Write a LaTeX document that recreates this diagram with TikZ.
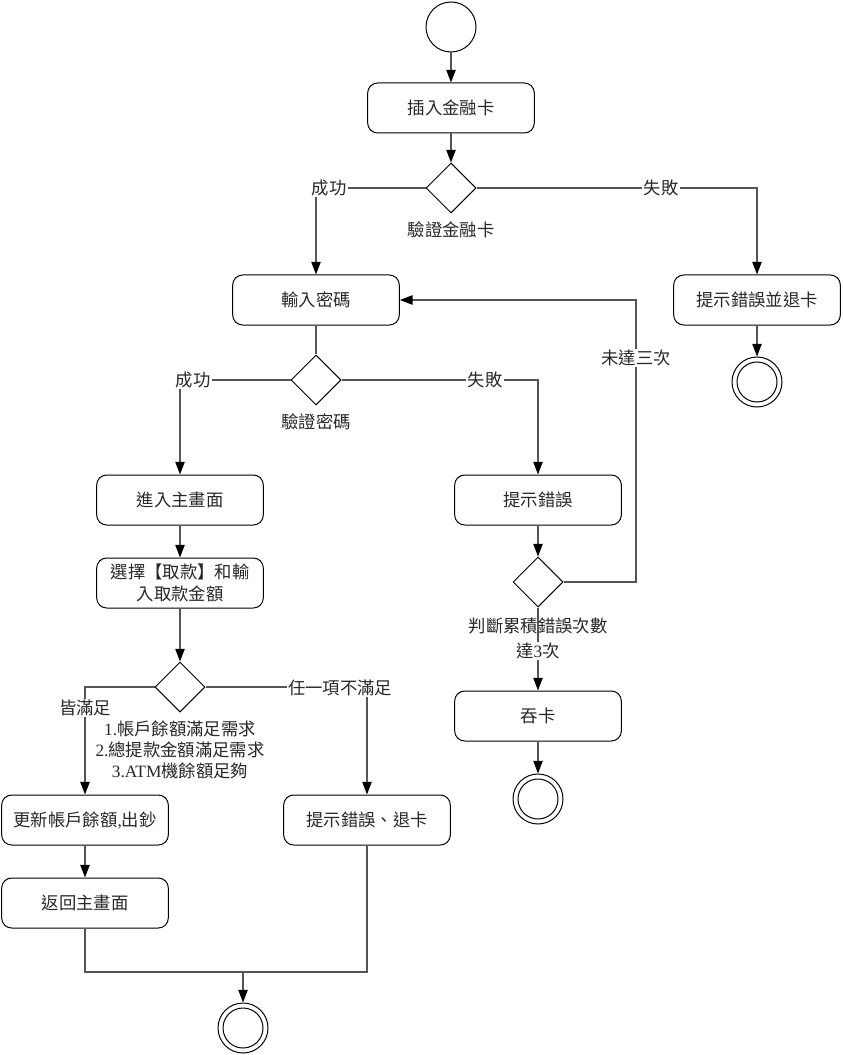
\documentclass[tikz,border=0pt]{standalone}
\usepackage{fontspec}
\setmainfont{Liberation Serif}
\newfontfamily\cjk{Noto Sans CJK TC}
\usetikzlibrary{shapes.geometric,arrows.meta,calc}
\definecolor{lncol}{RGB}{85,85,85}
\definecolor{txtcol}{RGB}{40,40,40}
\begin{document}
\begin{tikzpicture}[x=0.75pt,y=-0.75pt,
  every node/.style={font=\cjk\fontsize{13}{16}\selectfont, text=txtcol},
  act/.style={draw=black, line width=0.75pt, rounded corners=7.5pt, minimum width=125pt, minimum height=37.5pt, inner sep=2pt, align=center, fill=white},
  dec/.style={draw=black, line width=0.75pt, diamond, minimum width=37.5pt, minimum height=37.5pt, inner sep=0pt, fill=white},
  initst/.style={draw=black, line width=0.75pt, circle, minimum size=37.5pt, inner sep=0pt},
  lbl/.style={fill=white, inner sep=1pt},
  plainlbl/.style={inner sep=1pt, align=center},
  ln/.style={draw=lncol, line width=1pt},
  arr/.style={ln, -{Triangle[black, length=9.5pt, width=7pt]}}
]
\useasboundingbox (0,0) rectangle (842,1055);
\fill[white] (0,0) rectangle (842,1055);

% nodes
\node[initst] (start) at (451,27) {};
\node[act] (card) at (451,108) {插入金融卡};
\node[dec] (d1) at (451,188) {};
\node[plainlbl] (d1l) at (451,230) {驗證金融卡};
\node[act] (err1) at (757,300) {提示錯誤並退卡};
\node[initst] (end1) at (757,382) {};
\node[act] (pin) at (316,300) {輸入密碼};
\node[dec] (d2) at (316,380) {};
\node[plainlbl] (d2l) at (316,422) {驗證密碼};
\node[act] (home) at (180,500) {進入主畫面};
\node[act] (sel) at (180,583) {選擇【取款】和輸\\入取款金額};
\node[dec] (d3) at (180,687) {};
\node[plainlbl, font=\cjk\fontsize{13}{15.75}\selectfont] (d3l) at (180,750) {{\rmfamily 1.}帳戶餘額滿足需求\\{\rmfamily 2.}總提款金額滿足需求\\{\rmfamily 3.ATM}機餘額足夠};
\node[act] (upd) at (85,820) {更新帳戶餘額{\rmfamily ,}出鈔};
\node[act] (err3) at (367,820) {提示錯誤、退卡};
\node[act] (ret) at (85,903) {返回主畫面};
\node[initst] (end3) at (243,1028) {};
\node[act] (err2) at (538,500) {提示錯誤};
\node[dec] (d4) at (538,582) {};
\node[act] (swal) at (538,716) {吞卡};
\node[initst] (end2) at (538,799) {};

\draw[line width=0.75pt] (end1.center) circle (15pt);
\draw[line width=0.75pt] (end2.center) circle (15pt);
\draw[line width=0.75pt] (end3.center) circle (15pt);

\coordinate (loop) at (636,300);
\coordinate (join) at (243,972);

% connectors
\draw[arr] (start) -- (card);
\draw[arr] (card) -- (d1);
\draw[arr] (d1.west) -| (pin.north);
\draw[arr] (d1.east) -| (err1.north);
\draw[arr] (err1) -- (end1);
\draw[ln] (pin) -- (d2);
\draw[arr] (d2.west) -| (home.north);
\draw[arr] (d2.east) -| (err2.north);
\draw[arr] (err2) -- (d4);
\draw[arr] (d4.east) -| (loop) -- (pin.east);
\draw[arr] (d4) -- (swal);
\draw[arr] (swal) -- (end2);
\draw[arr] (home) -- (sel);
\draw[arr] (sel) -- (d3);
\draw[arr] (d3.west) -| (upd.north);
\draw[arr] (d3.east) -| (err3.north);
\draw[arr] (upd) -- (ret);
\draw[ln] (ret.south) |- (join) -| (err3.south);
\draw[arr] (join) -- (end3);

% labels on connectors
\node[lbl] (l1) at (329,188) {成功};
\node[lbl] (l2) at (661,188) {失敗};
\node[lbl] (l3) at (193,380) {成功};
\node[lbl] (l4) at (485,380) {失敗};
\node[lbl] (l5) at (636,358) {未達三次};
\node[plainlbl] (d4l) at (538,626) {判斷累積錯誤次數};
\node[lbl] (l6) at (538,651) {達{\rmfamily 3}次};
\node[lbl] (l7) at (85,708) {皆滿足};
\node[lbl] (l8) at (340,688) {任一項不滿足};
\end{tikzpicture}
\end{document}
